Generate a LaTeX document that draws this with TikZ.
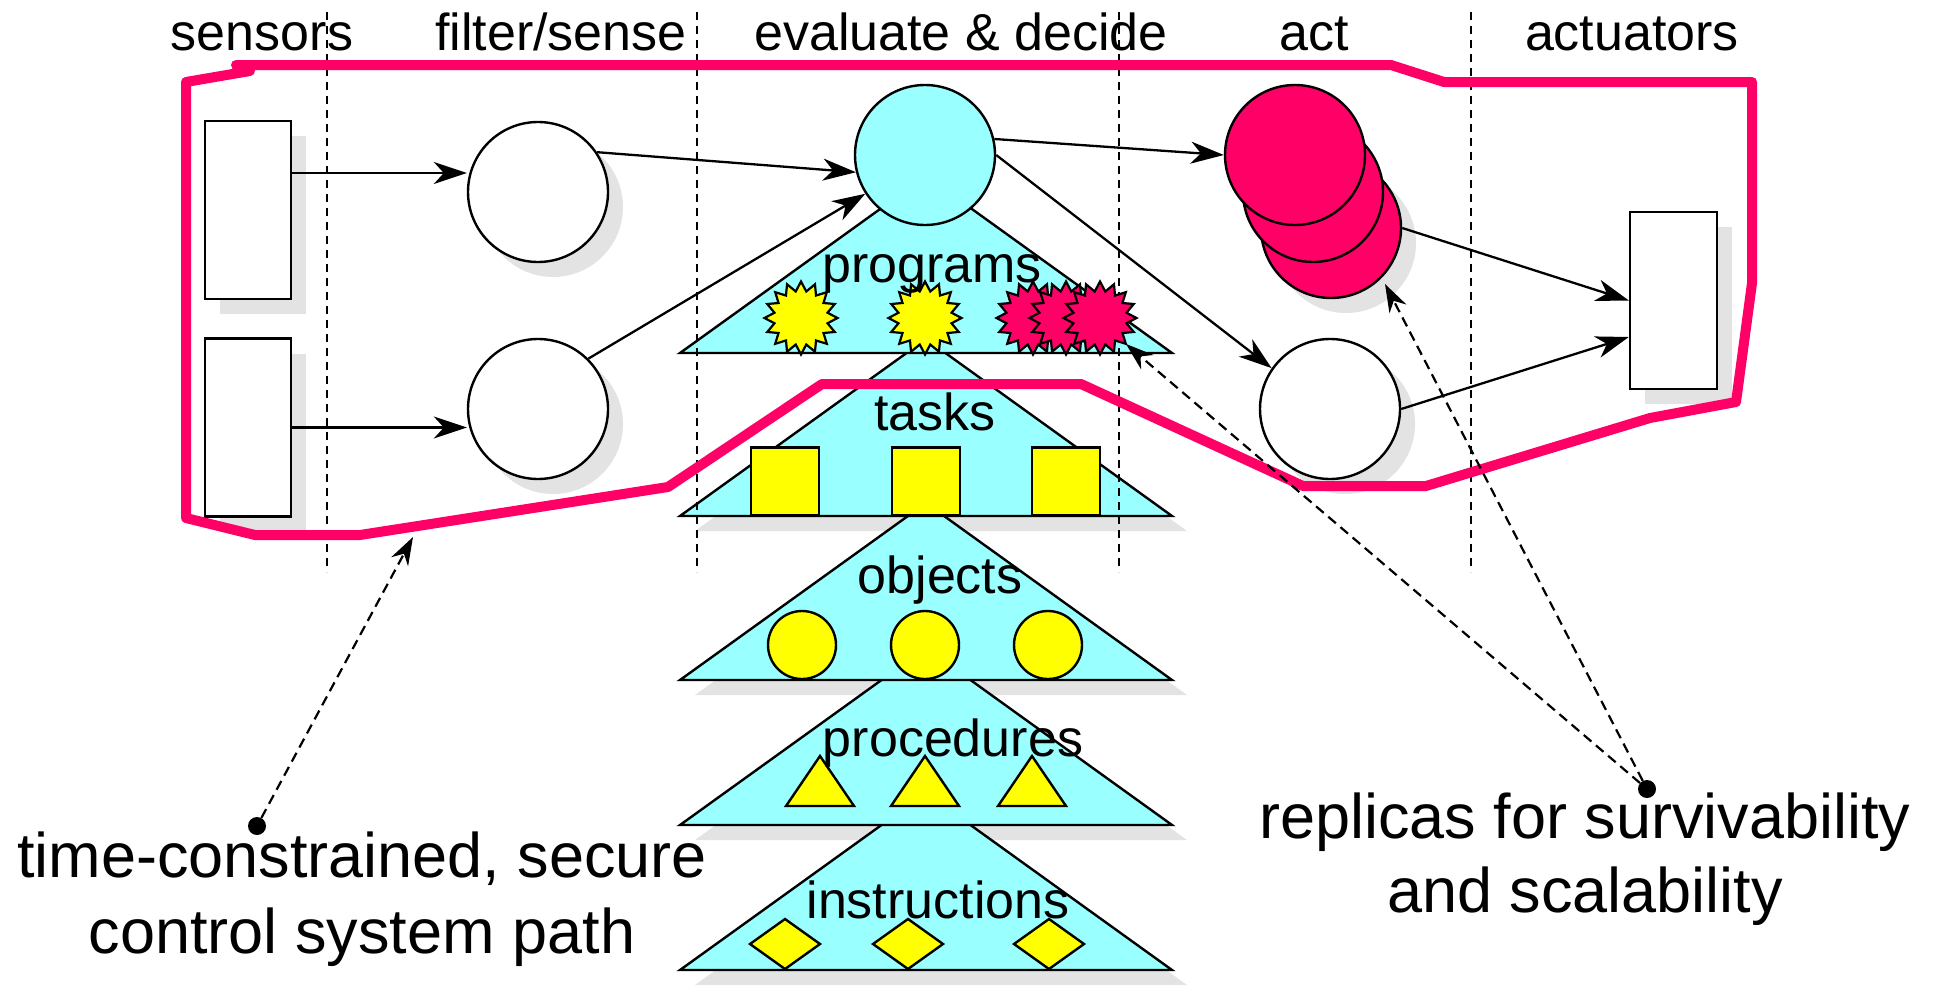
\documentclass[tikz,border=0pt]{standalone}
\usepackage{fontspec}
\setmainfont{Liberation Sans}
\usetikzlibrary{arrows.meta,shapes.geometric,shadows}

\definecolor{cyanfill}{HTML}{99FFFF}
\definecolor{pathred}{HTML}{FF0066}
\definecolor{yel}{HTML}{FFFF00}
\definecolor{shade}{HTML}{E3E3E3}

\tikzset{
  outline/.style={draw=black, line width=2.4pt},
  shadowed/.style={drop shadow={shadow xshift=15pt, shadow yshift=-15pt, fill=shade, opacity=1}},
  devbox/.style={outline, fill=white, rectangle, minimum width=86pt, minimum height=178pt, inner sep=0pt, shadowed},
  proc/.style={outline, circle, minimum size=140pt, inner sep=0pt},
  flow/.style={line width=2.3pt, -{Stealth[length=33pt,width=22pt,inset=10pt]}},
  note/.style={line width=2.2pt, dash pattern=on 10pt off 6pt, -{Stealth[length=28pt,width=19pt,inset=9pt]}},
  divider/.style={line width=2.2pt, dash pattern=on 8pt off 6pt},
  level/.style={outline, fill=cyanfill},
  levelshade/.style={fill=shade, xshift=15pt, yshift=-15pt},
  piece/.style={outline, fill=yel},
  burst/.style={star, star points=16, star point ratio=1.35, minimum size=73pt, inner sep=0pt, draw=black, line width=2.2pt},
  dot/.style={circle, fill=black, inner sep=0pt, minimum size=18pt},
  lbl/.style={anchor=base, inner sep=0pt, font=\fontsize{52}{60}\selectfont},
  caption/.style={anchor=base, inner sep=0pt, font=\fontsize{63}{76}\selectfont},
  loop/.style={draw=pathred, line width=10pt, line join=round, line cap=round},
}

% one level of the software hierarchy: apex at (926,#1), base 177 lower
\newcommand\levelshape[1]{(926,#1) -- (680,{#1+177}) -- (1172,{#1+177}) -- cycle}

\begin{document}
\begin{tikzpicture}[x=1pt,y=-1pt]
\useasboundingbox (0,0) rectangle (1937,985);

% shadows of the lower levels
\foreach \a in {339,503,648,793} \fill[levelshade] \levelshape{\a};

% instructions
\draw[level] \levelshape{793};
\foreach \cx in {785,908,1049}
  \draw[piece] (\cx-35,944) -- (\cx,919) -- (\cx+35,944) -- (\cx,969) -- cycle;

% procedures
\draw[level] \levelshape{648};
\foreach \cx in {820,925,1032}
  \draw[piece] (\cx,756) -- (\cx+34,806) -- (\cx-34,806) -- cycle;

% objects
\draw[level] \levelshape{503};
\foreach \cx/\nm in {802/o1,925/o2,1048/o3}
  \node[piece, circle, minimum size=68pt, inner sep=0pt] (\nm) at (\cx,645) {};

% tasks
\draw[level] \levelshape{339};
\foreach \cx/\nm in {785/t1,926/t2,1066/t3}
  \node[piece, rectangle, minimum size=68pt, inner sep=0pt] (\nm) at (\cx,481.5) {};

% programs
\draw[level] \levelshape{176};

% stage dividers
\foreach \x/\nm in {327/v1,697/v2,1119/v3,1471/v4} {
  \coordinate (\nm top) at (\x,12);
  \coordinate (\nm bot) at (\x,572);
  \draw[divider] (\nm top) -- (\nm bot);
}

% programs: two single ones, one replicated three times
\node[burst, fill=yel] (p1) at (801,318) {};
\node[burst, fill=yel] (p2) at (925,318) {};
\node[burst, fill=pathred] (p3a) at (1033,318) {};
\node[burst, fill=pathred] (p3b) at (1066,318) {};
\node[burst, fill=pathred] (p3c) at (1100,318) {};

% decision node on top of the hierarchy
\node[proc, fill=cyanfill] (dec) at (925,155) {};

% sensors and filters
\node[devbox] (s1) at (248,210) {};
\node[devbox] (s2) at (248,427.5) {};
\node[proc, fill=white, shadowed] (f1) at (538,192) {};
\node[proc, fill=white, shadowed] (f2) at (538,409) {};

% act stage: replicated actor and a single one
\node[proc, fill=pathred, shadowed] (r3) at (1331,228) {};
\node[proc, fill=pathred] (r2) at (1313,192) {};
\node[proc, fill=pathred] (r1) at (1295,155) {};
\node[proc, fill=white, shadowed] (lo) at (1330,409) {};

% actuator
\node[devbox, minimum width=87pt, minimum height=177pt] (act) at (1673.5,300.5) {};

% data flow
\coordinate (y173) at (0,173);
\coordinate (y337) at (0,337);
\draw[flow] (s1.east |- y173) -- (f1.west |- y173);
\draw[flow] (s2.east) -- (f2.west |- s2.east);
\draw[flow] (f1.34) -- (dec.194);
\draw[flow] (f2.45) -- (dec.213);
\draw[flow] (dec.13) -- (r1.west);
\draw[flow] (dec.east) -- (lo.145);
\draw[flow] (r3.east) -- (act.west);
\draw[flow] (lo.east) -- (act.west |- y337);

% control system path
\draw[loop] (236,65) -- (1391,65) -- (1444,82) -- (1752,82) -- (1752,283)
  -- (1736,402) -- (1650,418) -- (1426,486) -- (1303,486) -- (1081,384)
  -- (822,384) -- (668,487) -- (360,535) -- (255,535) -- (186,518)
  -- (186,82) -- (250,71);

% stage titles
\node[lbl] (h1) at (262,50) {sensors};
\node[lbl] (h2) at (561,50) {filter/sense};
\node[lbl] (h3) at (961,50) {evaluate \& decide};
\node[lbl] (h4) at (1314,50) {act};
\node[lbl] (h5) at (1632,50) {actuators};

% level names
\node[lbl] (l1) at (932,282) {programs};
\node[lbl] (l2) at (935,430) {tasks};
\node[lbl] (l3) at (940,593) {objects};
\node[lbl] (l4) at (953,756) {procedures};
\node[lbl] (l5) at (938,918) {instructions};

% annotations
\node[caption] (c1) at (362,877) {time-constrained, secure};
\node[caption] (c2) at (362,953) {control system path};
\node[caption] (c3) at (1585,838) {replicas for survivability};
\node[caption] (c4) at (1585,912) {and scalability};

\node[dot] (d1) at (257,826) {};
\node[dot] (d2) at (1647,789) {};
\coordinate (pathmark) at (413,537);
\coordinate (progmark) at (1126,344);
\coordinate (actmark) at (1385,284);
\draw[note] (d1) -- (pathmark);
\draw[note] (d2) -- (progmark);
\draw[note] (d2) -- (actmark);
\end{tikzpicture}
\end{document}
